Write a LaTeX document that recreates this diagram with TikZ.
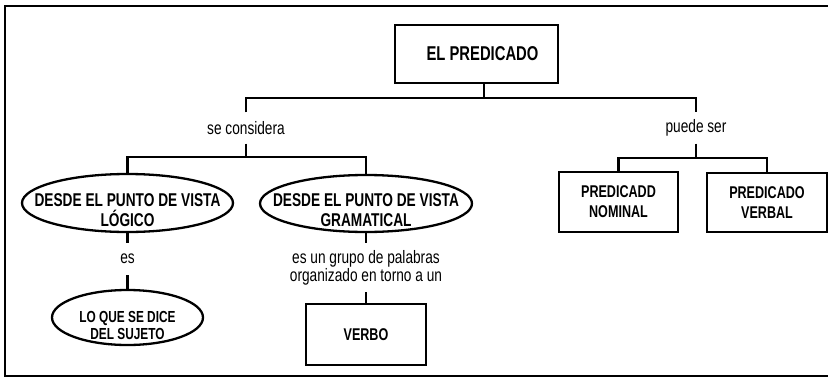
\documentclass[tikz,border=0pt]{standalone}
\usepackage{fontspec}
\setmainfont{Liberation Sans}
\newfontfamily\angosta{Liberation Sans}[FakeStretch=0.74]
\newfontfamily\media{Liberation Sans}[FakeStretch=0.76]
\usetikzlibrary{shapes.geometric}

\tikzset{
  linea/.style={line width=2.3pt},
  caja/.style={draw, line width=2.3pt, inner sep=0pt, align=center, font=\angosta\bfseries\fontsize{17}{20}\selectfont},
  ovalo/.style={draw, ellipse, line width=2.3pt, inner sep=0pt},
  elipse/.style={inner sep=0pt, align=center, font=\angosta\bfseries\fontsize{18.5}{20}\selectfont},
  etiqueta/.style={inner sep=0pt, align=center, minimum height=31, font=\media\fontsize{18}{18}\selectfont}
}

\begin{document}
\begin{tikzpicture}[x=1pt,y=-1pt]
\useasboundingbox (0,0) rectangle (828,378);

% Marco
\draw[line width=2pt] (834,6) -- (5,6) -- (5,376) -- (834,376);

% Titulo
\node[caja, minimum width=163, minimum height=58, font=\angosta\bfseries\fontsize{20}{22}\selectfont] (predicado) at (476.5,54) {\hspace*{12pt}EL PREDICADO};
\coordinate (tronco) at (484,98);
\coordinate (rama1) at (246,157);
\coordinate (rama2) at (696,158);

% Etiquetas
\node[etiqueta] (considera) at (246,128) {se considera};
\node[etiqueta] (puede) at (696,128) {puede ser};

% Punto de vista
\node[ovalo, minimum width=211, minimum height=58] (logico) at (127.5,203) {};
\node[ovalo, minimum width=212, minimum height=57] (gramatical) at (366,203.5) {};
\node[elipse] (logicotxt) at (127.5,210) {DESDE EL PUNTO DE VISTA\\LÓGICO};
\node[elipse] (gramaticaltxt) at (366,210) {DESDE EL PUNTO DE VISTA\\GRAMATICAL};

% Rama logica
\node[etiqueta, minimum height=32] (es) at (127.5,259) {es};
\node[ovalo, minimum width=151, minimum height=55] (sujeto) at (127.5,317.5) {};
\node[elipse, font=\angosta\bfseries\fontsize{16}{17}\selectfont] (sujetotxt) at (127.5,325) {LO QUE SE DICE\\DEL SUJETO};

% Rama gramatical
\node[etiqueta, minimum height=49] (grupo) at (366,267.5) {es un grupo de palabras\\organizado en torno a un};
\node[caja, minimum width=120, minimum height=61] (verbo) at (366,334.5) {VERBO};

% Clases
\node[caja, minimum width=119, minimum height=60] (nominal) at (618.5,202) {PREDICADD\\NOMINAL};
\node[caja, minimum width=120, minimum height=59] (verbal) at (767,202.5) {PREDICADO\\VERBAL};

% Conectores
\draw[linea] (predicado.south -| tronco) -- (tronco);
\draw[linea] (considera.north) |- (tronco) -| (puede.north);
\draw[linea] (considera.south) -- (rama1);
\draw[linea] (logico.north) |- (rama1) -| (gramatical.north);
\draw[linea] (puede.south) -- (rama2);
\draw[linea] (nominal.north) |- (rama2) -| (verbal.north);
\draw[linea] (logico.south) -- (es.north);
\draw[linea] (es.south) -- (sujeto.north);
\draw[linea] (gramatical.south) -- (grupo.north);
\draw[linea] (grupo.south) -- (verbo.north);

\end{tikzpicture}
\end{document}
